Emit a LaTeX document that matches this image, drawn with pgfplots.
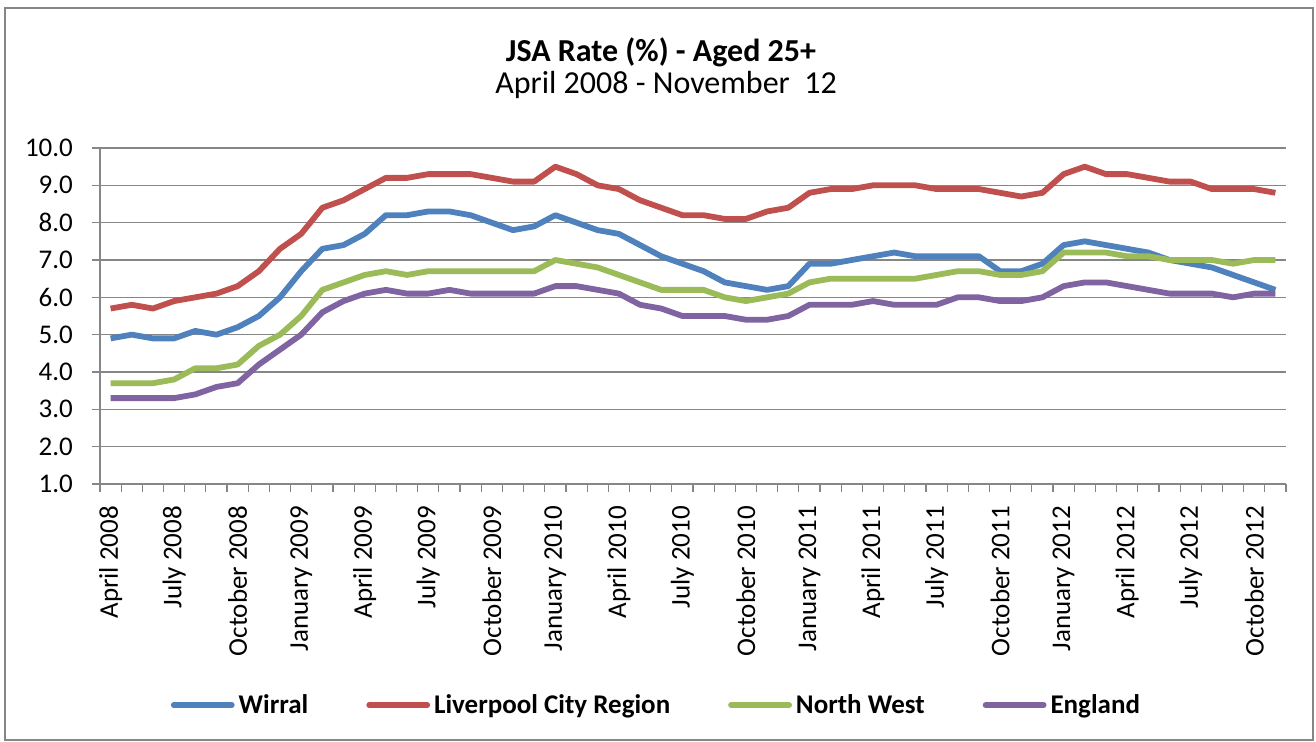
\documentclass[border=0pt]{standalone}
\usepackage{fontspec}
\setmainfont{Carlito}
\usepackage{pgfplots}
\usepackage{pgfplotstable}
\pgfplotsset{compat=1.18}
\definecolor{wirral}{HTML}{4F81BD}
\definecolor{lcr}{HTML}{C0504D}
\definecolor{nw}{HTML}{9BBB59}
\definecolor{eng}{HTML}{8064A2}
\definecolor{gridgray}{HTML}{868686}

% month index (0 = April 2008), JSA rate aged 25+
\pgfplotstableread{
i  wirral lcr nw  eng
0  4.9 5.7 3.7 3.3
1  5.0 5.8 3.7 3.3
2  4.9 5.7 3.7 3.3
3  4.9 5.9 3.8 3.3
4  5.1 6.0 4.1 3.4
5  5.0 6.1 4.1 3.6
6  5.2 6.3 4.2 3.7
7  5.5 6.7 4.7 4.2
8  6.0 7.3 5.0 4.6
9  6.7 7.7 5.5 5.0
10 7.3 8.4 6.2 5.6
11 7.4 8.6 6.4 5.9
12 7.7 8.9 6.6 6.1
13 8.2 9.2 6.7 6.2
14 8.2 9.2 6.6 6.1
15 8.3 9.3 6.7 6.1
16 8.3 9.3 6.7 6.2
17 8.2 9.3 6.7 6.1
18 8.0 9.2 6.7 6.1
19 7.8 9.1 6.7 6.1
20 7.9 9.1 6.7 6.1
21 8.2 9.5 7.0 6.3
22 8.0 9.3 6.9 6.3
23 7.8 9.0 6.8 6.2
24 7.7 8.9 6.6 6.1
25 7.4 8.6 6.4 5.8
26 7.1 8.4 6.2 5.7
27 6.9 8.2 6.2 5.5
28 6.7 8.2 6.2 5.5
29 6.4 8.1 6.0 5.5
30 6.3 8.1 5.9 5.4
31 6.2 8.3 6.0 5.4
32 6.3 8.4 6.1 5.5
33 6.9 8.8 6.4 5.8
34 6.9 8.9 6.5 5.8
35 7.0 8.9 6.5 5.8
36 7.1 9.0 6.5 5.9
37 7.2 9.0 6.5 5.8
38 7.1 9.0 6.5 5.8
39 7.1 8.9 6.6 5.8
40 7.1 8.9 6.7 6.0
41 7.1 8.9 6.7 6.0
42 6.7 8.8 6.6 5.9
43 6.7 8.7 6.6 5.9
44 6.9 8.8 6.7 6.0
45 7.4 9.3 7.2 6.3
46 7.5 9.5 7.2 6.4
47 7.4 9.3 7.2 6.4
48 7.3 9.3 7.1 6.3
49 7.2 9.2 7.1 6.2
50 7.0 9.1 7.0 6.1
51 6.9 9.1 7.0 6.1
52 6.8 8.9 7.0 6.1
53 6.6 8.9 6.9 6.0
54 6.4 8.9 7.0 6.1
55 6.2 8.8 7.0 6.1
}\jsadata

\begin{document}
\begin{tikzpicture}[x=1pt,y=1pt]
  \useasboundingbox (-50,-129) rectangle (608,242);
  \draw[gridgray, line width=1pt] (-47.5,-128) rectangle (606.5,238);
  \node[anchor=base, inner sep=0pt, font=\fontsize{16}{19}\selectfont\bfseries] at (280.5,211) {JSA Rate (\%) - Aged 25+};
  \node[anchor=base, inner sep=0pt, font=\fontsize{16}{19}\selectfont] at (283,195) {April 2008 - November\ \ 12};
  \begin{axis}[
      at={(0,0)}, anchor=south west,
      scale only axis,
      width=593pt, height=168pt,
      xmin=-0.5, xmax=55.5,
      ymin=1, ymax=10,
      axis lines*=left,
      axis line style={gridgray, line width=0.8pt},
      ytick={1,2,...,10},
      ymajorgrids=true,
      grid style={gridgray, line width=0.7pt},
      tick align=outside,
      major tick length=4pt,
      tick style={gridgray, line width=0.6pt},
      yticklabel style={xshift=-6pt, /pgf/number format/.cd, fixed, fixed zerofill, precision=1, assume math mode=true},
      tick label style={font=\fontsize{13.5}{16}\selectfont},
      xtick={-0.5,0.5,...,55.5},
      xticklabels={},
      extra x ticks={0,3,...,54},
      extra x tick labels={April 2008,July 2008,October 2008,January 2009,April 2009,July 2009,October 2009,January 2010,April 2010,July 2010,October 2010,January 2011,April 2011,July 2011,October 2011,January 2012,April 2012,July 2012,October 2012},
      extra x tick style={major tick length=0pt, xticklabel style={rotate=90, anchor=east, xshift=-7.5pt}},
      legend columns=4,
      legend style={at={(0.470,-0.658)}, anchor=center, draw=none, fill=none,
        font=\fontsize{13.5}{16}\selectfont\bfseries,
        /tikz/every even column/.append style={column sep=27pt}},
      legend image code/.code={\draw[#1, line cap=round] (0pt,0pt) -- (29pt,0pt);},
    ]
    \addplot[wirral, line width=2.9pt, line join=round] table[x=i, y=wirral] {\jsadata};
    \addplot[lcr, line width=2.9pt, line join=round] table[x=i, y=lcr] {\jsadata};
    \addplot[nw, line width=2.9pt, line join=round] table[x=i, y=nw] {\jsadata};
    \addplot[eng, line width=2.9pt, line join=round] table[x=i, y=eng] {\jsadata};
    \legend{Wirral, Liverpool City Region, North West, England}
  \end{axis}
\end{tikzpicture}
\end{document}
